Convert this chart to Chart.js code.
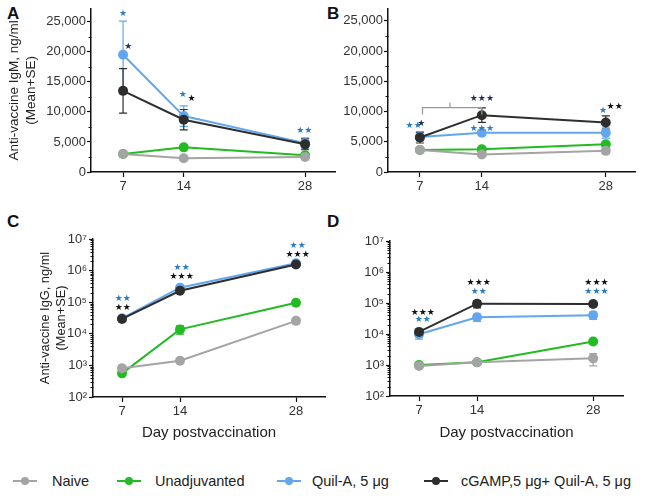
<!DOCTYPE html>
<html>
<head>
<meta charset="utf-8">
<script src="https://cdn.jsdelivr.net/npm/chart.js@4.4.1/dist/chart.umd.min.js"></script>
<style>
  body { margin: 0; background: #fff; width: 649px; height: 502px; position: relative; overflow: hidden;
         font-family: 'Liberation Sans', Arial, sans-serif; }
  canvas { position: absolute; }
  .lbl { position: absolute; font-weight: bold; font-size: 17px; color: #111; line-height: 17px; }
  .leg { position: absolute; top: 472px; height: 18px; line-height: 18px; font-size: 14.5px; color: #222; white-space: nowrap; }
  .leg .mk { position: absolute; left: 0; top: 8px; width: 24px; height: 2px; }
  .leg .mk i { position: absolute; left: 8px; top: -3px; width: 8px; height: 8px; border-radius: 50%; }
</style>
</head>
<body>
<div class="lbl" style="left:7px;top:5px">A</div>
<div class="lbl" style="left:327px;top:5px">B</div>
<div class="lbl" style="left:7px;top:213px">C</div>
<div class="lbl" style="left:327px;top:213px">D</div>

<canvas id="chartA" width="340" height="200" style="left:0;top:0"></canvas>
<canvas id="chartB" width="309" height="200" style="left:340px;top:0"></canvas>
<canvas id="chartC" width="330" height="237" style="left:0;top:205px"></canvas>
<canvas id="chartD" width="309" height="237" style="left:340px;top:205px"></canvas>

<div id="legend"></div>

<script>
// ===== DADOS =====
const days = [7, 14, 28];
const groups = ['Naive', 'Unadjuvanted', 'Quil-A, 5 \u03bcg', 'cGAMP,5 \u03bcg+ Quil-A, 5 \u03bcg'];
const colors = ['#a4a4a4', '#22bb22', '#62a6ee', '#2e2e2e'];
const drawOrder = [2, 3, 1, 0]; // menor = desenhado por cima

// IgM (A: prime, B: boost) - linhas: naive, unadj, quil-a, cgamp+quil-a
const igmA = [[3000, 2300, 2500], [3000, 4100, 2800], [19500, 9300, 4800], [13500, 8700, 4600]];
const igmA_se = [[250, 200, 300], [250, 350, 300], [5600, 1700, 900], [3700, 1700, 900]];
const igmB = [[3650, 2900, 3500], [3650, 3750, 4600], [5800, 6500, 6500], [5700, 9400, 8200]];
const igmB_se = [[300, 250, 500], [250, 300, 300], [700, 400, 900], [900, 1200, 1100]];
const igmTicks = [0, 5000, 10000, 15000, 20000, 25000];

// IgG (C, D)
const iggC = [[810, 1400, 25700], [560, 13800, 96000], [31000, 288000, 1700000], [29500, 230000, 1550000]];
const iggC_se = [[200, 100, 2500], [80, 4000, 9000], [4000, 30000, 150000], [3000, 20000, 120000]];
const iggD = [[930, 1230, 1640], [1000, 1230, 5700], [9800, 34500, 40500], [11700, 95000, 93000]];
const iggD_se = [[60, 80, 700], [80, 80, 700], [3000, 9000, 11000], [1500, 25000, 10000]];
const iggTicks = [1e2, 1e3, 1e4, 1e5, 1e6, 1e7];

// asteriscos: [dia, valor, texto, cor]
const starsA = [[7, 26300, '*', 'blue'], [7.6, 20900, '*', 'navy'], [13.9, 12900, '*', 'blue'], [14.9, 12250, '*', 'black'], [27.9, 6950, '**', 'blue']];
const starsB = [[6.3, 7700, '**', 'blue'], [7.15, 8050, '*', 'navy'], [14, 12100, '***', 'navy'], [14, 7200, '***', 'blue'], [27.7, 10100, '*', 'blue'], [29, 10800, '**', 'black']];
const starsC = [[7.1, 1.26e5, '**', 'blue'], [7.1, 6.9e4, '**', 'black'], [14.2, 1.23e6, '**', 'blue'], [14.2, 6.5e5, '***', 'black'], [28.2, 6.0e6, '**', 'blue'], [28.2, 3.3e6, '***', 'black']];
const starsD = [[7.45, 5.0e4, '***', 'black'], [7.45, 2.8e4, '**', 'blue'], [14.2, 4.5e5, '***', 'black'], [14.2, 2.4e5, '**', 'blue'], [28.4, 4.5e5, '***', 'black'], [28.4, 2.4e5, '***', 'blue']];
// chave entre dia 7 e 14 no painel B
const bracketB = { from: 7.3, to: 14, mid: 10.4, top: 10650, leg: 9500, tip: 11500 };

const starColors = { blue: '#2b7cc4', navy: '#1d2f5c', black: '#111' };
const sup = { 2: '\u00b2', 3: '\u00b3', 4: '\u2074', 5: '\u2075', 6: '\u2076', 7: '\u2077' };
const FONT = "'Liberation Sans', Arial, sans-serif";

// ===== PLUGIN: barras de erro, ticks menores, asteriscos =====
function extras(p) {
  return {
    id: 'extras',
    beforeDatasetsDraw(chart) {
      const { ctx, scales: { x, y } } = chart;
      ctx.save();
      ctx.lineWidth = 1.2;
      p.se.forEach((row, i) => {
        ctx.strokeStyle = colors[i];
        row.forEach((e, j) => {
          const m = p.mean[i][j];
          const px = x.getPixelForValue(days[j]);
          const hi = y.getPixelForValue(m + e);
          const lo = y.getPixelForValue(Math.max(m - e, y.min));
          ctx.beginPath();
          ctx.moveTo(px, hi); ctx.lineTo(px, lo);
          ctx.moveTo(px - 4, hi); ctx.lineTo(px + 4, hi);
          ctx.moveTo(px - 4, lo); ctx.lineTo(px + 4, lo);
          ctx.stroke();
        });
      });
      ctx.restore();
    },
    afterDraw(chart) {
      const { ctx, scales: { x, y } } = chart;
      ctx.save();
      // ticks menores
      ctx.strokeStyle = '#111';
      ctx.lineWidth = 1;
      const ax = Math.round(y.right) + 0.5;
      let minors = [];
      if (p.log) {
        for (let k = 2; k < 7; k++) for (let m = 2; m < 10; m++) minors.push(m * Math.pow(10, k));
      } else {
        for (let v = 2500; v < 25000; v += 5000) minors.push(v);
      }
      ctx.beginPath();
      minors.forEach(v => {
        const py = Math.round(y.getPixelForValue(v)) + 0.5;
        ctx.moveTo(ax - 3, py); ctx.lineTo(ax, py);
      });
      ctx.stroke();

      // chave
      if (p.bracket) {
        const b = p.bracket;
        const x1 = x.getPixelForValue(b.from), x2 = x.getPixelForValue(b.to), xm = x.getPixelForValue(b.mid);
        const yt = y.getPixelForValue(b.top), yl = y.getPixelForValue(b.leg), yk = y.getPixelForValue(b.tip);
        ctx.strokeStyle = '#999';
        ctx.lineWidth = 1.2;
        ctx.beginPath();
        ctx.moveTo(x1, yl); ctx.lineTo(x1, yt); ctx.lineTo(x2, yt); ctx.lineTo(x2, yl);
        ctx.moveTo(xm, yt); ctx.lineTo(xm, yk);
        ctx.stroke();
      }

      // asteriscos
      ctx.font = "9px 'DejaVu Sans'";
      ctx.textAlign = 'center';
      ctx.textBaseline = 'middle';
      p.stars.forEach(([d, v, txt, c]) => {
        ctx.fillStyle = starColors[c];
        ctx.fillText(txt.replace(/\*/g, '\u2605'), x.getPixelForValue(d), y.getPixelForValue(v));
      });
      ctx.restore();
    }
  };
}

// ===== GRAFICOS =====
function panel(id, p) {
  const datasets = p.mean.map((vals, i) => ({
    label: groups[i],
    data: vals.map((v, j) => ({ x: days[j], y: v })),
    borderColor: colors[i],
    backgroundColor: colors[i],
    pointBackgroundColor: colors[i],
    pointBorderColor: colors[i],
    pointRadius: 5,
    pointBorderWidth: 0,
    borderWidth: 2,
    order: drawOrder[i]
  }));

  const yScale = p.log ? {
    type: 'logarithmic', min: 1e2, max: 1e7,
    afterBuildTicks: s => { s.ticks = iggTicks.map(v => ({ value: v })); },
    ticks: { callback: v => '10' + sup[Math.round(Math.log10(v))], color: '#333', font: { size: 13, family: FONT }, padding: 2 }
  } : {
    type: 'linear', min: 0, max: p.yMax,
    afterBuildTicks: s => { s.ticks = igmTicks.map(v => ({ value: v })); },
    ticks: { callback: v => v.toLocaleString('en-US'), color: '#333', font: { size: 13, family: FONT }, padding: 1 }
  };
  Object.assign(yScale, {
    afterFit: s => { s.width = p.yW; },
    grid: { drawOnChartArea: false, tickLength: 4, color: '#111', tickWidth: 1.2 },
    border: { color: '#111', width: 1.5 },
    title: p.yTitle ? { display: true, text: p.yTitle, color: '#222', font: { size: p.yTitleSize, family: FONT, lineHeight: 1.25 }, padding: 0 } : { display: false }
  });

  return new Chart(document.getElementById(id), {
    type: 'line',
    data: { datasets },
    options: {
      responsive: false,
      animation: false,
      devicePixelRatio: 1,
      layout: { padding: p.pad },
      plugins: { legend: { display: false }, tooltip: { enabled: false } },
      scales: {
        x: {
          type: 'linear', min: p.xMin, max: p.xMax,
          afterBuildTicks: s => { s.ticks = days.map(v => ({ value: v })); },
          afterFit: s => { s.height = p.xH; },
          grid: { drawOnChartArea: false, tickLength: 5, color: '#111', tickWidth: 1.2 },
          border: { color: '#111', width: 1.5 },
          ticks: { color: '#333', font: { size: 13, family: FONT }, padding: 2, maxRotation: 0 },
          title: p.xTitle ? { display: true, text: 'Day postvaccination', color: '#222', font: { size: 15, family: FONT, lineHeight: 1.2 }, padding: 0 } : { display: false }
        },
        y: yScale
      }
    },
    plugins: [extras(p)]
  });
}

panel('chartA', {
  mean: igmA, se: igmA_se, stars: starsA, log: false, yMax: 27150,
  xMin: 3.3, xMax: 31.45, yW: 85, xH: 28,
  pad: { left: 6, top: 8, right: 4, bottom: 0 },
  yTitle: ['Anti-vaccine IgM, ng/ml', '(Mean+SE)'], yTitleSize: 13.5
});
panel('chartB', {
  mean: igmB, se: igmB_se, stars: starsB, bracket: bracketB, log: false, yMax: 27000,
  xMin: 3.4, xMax: 31.3, yW: 48, xH: 28,
  pad: { left: 0, top: 7, right: 14, bottom: 0 }
});
panel('chartC', {
  mean: iggC, se: iggC_se, stars: starsC, log: true,
  xMin: 3.5, xMax: 31.5, yW: 56, xH: 45, xTitle: true,
  pad: { left: 37, top: 34, right: 5, bottom: 0 },
  yTitle: ['Anti-vaccine IgG, ng/ml', '(Mean+SE)'], yTitleSize: 12.8
});
panel('chartD', {
  mean: iggD, se: iggD_se, stars: starsD, log: true,
  xMin: 3.5, xMax: 31.6, yW: 50, xH: 46, xTitle: true,
  pad: { left: 0, top: 36, right: 26, bottom: 0 }
});

// ===== LEGENDA =====
const legendPos = [[13, 52], [117, 155], [277, 312], [424, 461]];
const legend = document.getElementById('legend');
groups.forEach((g, i) => {
  const [mx, tx] = legendPos[i];
  const item = document.createElement('div');
  item.className = 'leg';
  item.style.left = mx + 'px';
  item.innerHTML = `<span class="mk" style="background:${colors[i]}"><i style="background:${colors[i]}"></i></span>` +
    `<span style="position:absolute;left:${tx - mx}px">${g}</span>`;
  legend.appendChild(item);
});
</script>
</body>
</html>
